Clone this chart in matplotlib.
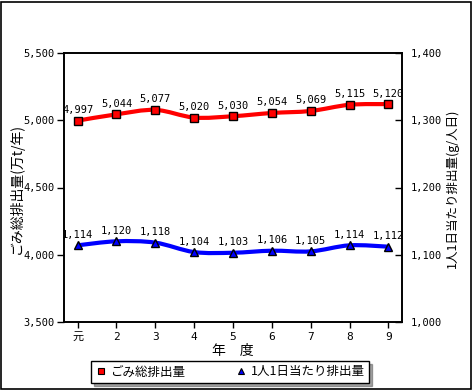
import numpy as np
import matplotlib
matplotlib.use("Agg")
import matplotlib.pyplot as plt
from matplotlib.path import Path
from matplotlib.patches import PathPatch, Rectangle
from matplotlib.lines import Line2D

plt.rcParams['font.family'] = ['Noto Sans CJK JP', 'DejaVu Sans']
NUM = ['DejaVu Sans Mono', 'Noto Sans CJK JP']

years = ["元", "2", "3", "4", "5", "6", "7", "8", "9"]
total = [4997, 5044, 5077, 5020, 5030, 5054, 5069, 5115, 5120]
per_person = [1114, 1120, 1118, 1104, 1103, 1106, 1105, 1114, 1112]
left_ticks = [3500, 4000, 4500, 5000, 5500]
right_ticks = [1000, 1100, 1200, 1300, 1400]

RED = "#ff0000"
BLUE = "#0000ff"


def smooth_path(xs, ys):
    # Catmull-Rom style cubic bezier through the points
    pts = np.column_stack([xs, ys]).astype(float)
    verts = [pts[0]]
    codes = [Path.MOVETO]
    n = len(pts)
    for i in range(n - 1):
        p0 = pts[max(i - 1, 0)]
        p1 = pts[i]
        p2 = pts[i + 1]
        p3 = pts[min(i + 2, n - 1)]
        verts += [p1 + (p2 - p0) / 6, p2 - (p3 - p1) / 6, p2]
        codes += [Path.CURVE4] * 3
    return Path(verts, codes)


fig = plt.figure(figsize=(4.73, 3.90), dpi=100)
ax = fig.add_axes([64 / 473, 1 - 322 / 390, 338 / 473, 269 / 390])
ax2 = ax.twinx()
x = np.arange(len(years))

ax.add_patch(PathPatch(smooth_path(x, total), fill=False, ec=RED, lw=3, zorder=2))
ax.plot(x, total, ls="none", marker="s", ms=6, mfc=RED, mec="black", mew=1, zorder=3)
ax2.add_patch(PathPatch(smooth_path(x, per_person), fill=False, ec=BLUE, lw=3, zorder=2))
ax2.plot(x, per_person, ls="none", marker="^", ms=6, mfc=BLUE, mec="black", mew=1, zorder=3)

for xi, v in zip(x, total):
    ax.annotate(f"{v:,}", (xi, v), xytext=(0, 4), textcoords="offset points",
                ha="center", va="bottom", fontsize=7.5, family=NUM)
for xi, v in zip(x, per_person):
    ax2.annotate(f"{v:,}", (xi, v), xytext=(0, 4), textcoords="offset points",
                 ha="center", va="bottom", fontsize=7.5, family=NUM)

ax.set_xlim(-0.35, 8.35)
ax.set_ylim(3500, 5500)
ax2.set_ylim(1000, 1400)
ax.set_xticks(x)
ax.set_xticklabels(years, family=NUM, fontsize=8)
ax.set_yticks(left_ticks)
ax.set_yticklabels([f"{v:,}" for v in left_ticks], family=NUM, fontsize=7.5)
ax2.set_yticks(right_ticks)
ax2.set_yticklabels([f"{v:,}" for v in right_ticks], family=NUM, fontsize=7.5)

ax.tick_params(axis="y", direction="out", length=5, width=1, pad=2)
ax.tick_params(axis="x", direction="out", length=4, width=1, pad=3)
ax2.tick_params(axis="y", direction="in", length=5, width=1, pad=6)

for a in (ax, ax2):
    for s in a.spines.values():
        s.set_linewidth(1.2)
        s.set_color("black")

fig.text(233 / 473, 1 - 351 / 390, "年　度", ha="center", va="center", fontsize=10)
fig.text(16 / 473, 1 - 188 / 390, "ごみ総排出量(万t/年)", rotation=90,
         ha="center", va="center", fontsize=10)
fig.text(452 / 473, 1 - 188 / 390, "1人1日当たり排出量(g/人日)", rotation=90,
         ha="center", va="center", fontsize=9)

handles = [
    Line2D([], [], ls="none", marker="s", ms=5, mfc=RED, mec="black", mew=0.8),
    Line2D([], [], ls="none", marker="^", ms=5, mfc=BLUE, mec="black", mew=0.8),
]
leg = fig.legend(handles, ["ごみ総排出量", "1人1日当たり排出量"], ncol=2,
                 loc="center", bbox_to_anchor=(230 / 473, 1 - 372 / 390),
                 frameon=True, fancybox=False, shadow=True, fontsize=9,
                 handlelength=0.8, handletextpad=0.4, columnspacing=4,
                 borderpad=0.35, edgecolor="black")
leg.get_frame().set_linewidth(1)

fig.patches.append(Rectangle((1 / 473, 1 / 390), 470 / 473, 387 / 390,
                             transform=fig.transFigure, fill=False,
                             ec="black", lw=1.2))

fig.savefig("out.png", dpi=100)
